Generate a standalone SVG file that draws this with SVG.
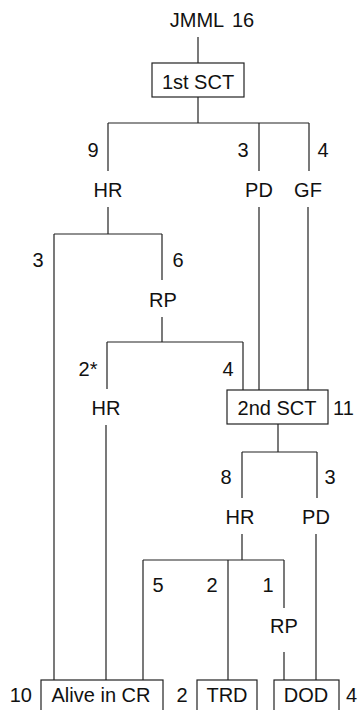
<svg xmlns="http://www.w3.org/2000/svg" width="358" height="710" viewBox="0 0 358 710">
<style>
text{font-family:"Liberation Sans",Arial,sans-serif;font-size:20px;fill:#111;}
.c{text-anchor:middle;}
.e{text-anchor:end;}
.box{fill:#fff;stroke:#222;stroke-width:1.2;}
#connectors path{fill:none;stroke:#222;stroke-width:1.2;}
</style>
<rect width="358" height="710" fill="#fff"/>
<g id="connectors">
<path d="M198,37V63M198,97V123M108,123H309M108,123V171M259,123V171M309,123V171"/>
<path d="M108,207V234M54,234H162M54,234V680M162,234V280"/>
<path d="M162,317V342M107,342H243M107,342V389M243,342V390M106,425V680"/>
<path d="M259,207V390M308,207V390"/>
<path d="M278,424V452M242,452H317M242,452V498M317,452V498"/>
<path d="M242,534V560M143,560H284M143,560V680M228,560V680M284,560V608M284,652V680M316,534V680"/>
</g>
<g id="labels">
<text class="c" x="93" y="157">9</text>
<text class="c" x="243" y="157">3</text>
<text class="c" x="323" y="157">4</text>
<text class="c" x="38" y="267">3</text>
<text class="c" x="178" y="267">6</text>
<text class="c" x="88" y="376">2*</text>
<text class="c" x="228" y="376">4</text>
<text class="c" x="226" y="484">8</text>
<text class="c" x="330" y="484">3</text>
<text class="c" x="158" y="592">5</text>
<text class="c" x="212" y="592">2</text>
<text class="c" x="268" y="592">1</text>
</g>
<g id="jmml"><text class="c" x="212" y="27" word-spacing="3">JMML 16</text></g>
<g id="sct1"><rect class="box" x="152" y="63" width="92" height="34"/><text class="c" x="198" y="89">1st SCT</text></g>
<g id="hr1"><text class="c" x="108" y="197">HR</text></g>
<g id="pd1"><text class="c" x="259" y="197">PD</text></g>
<g id="gf"><text class="c" x="308" y="197">GF</text></g>
<g id="rp1"><text class="c" x="163" y="307">RP</text></g>
<g id="hr2"><text class="c" x="106" y="415">HR</text></g>
<g id="sct2"><rect class="box" x="227" y="390" width="101" height="34"/><text class="c" x="277" y="415">2nd SCT</text><text x="333" y="415">11</text></g>
<g id="hr3"><text class="c" x="240" y="524">HR</text></g>
<g id="pd2"><text class="c" x="316" y="524">PD</text></g>
<g id="rp2"><text class="c" x="284" y="633">RP</text></g>
<g id="alive"><rect class="box" x="41" y="680" width="122" height="40"/><text class="c" x="101" y="702">Alive in CR</text><text class="e" x="32" y="702">10</text></g>
<g id="trd"><rect class="box" x="197" y="680" width="60" height="40"/><text class="c" x="227" y="702">TRD</text><text class="c" x="182" y="702">2</text></g>
<g id="dod"><rect class="box" x="274" y="680" width="65" height="40"/><text class="c" x="306" y="702">DOD</text><text x="346" y="702">4</text></g>
</svg>
